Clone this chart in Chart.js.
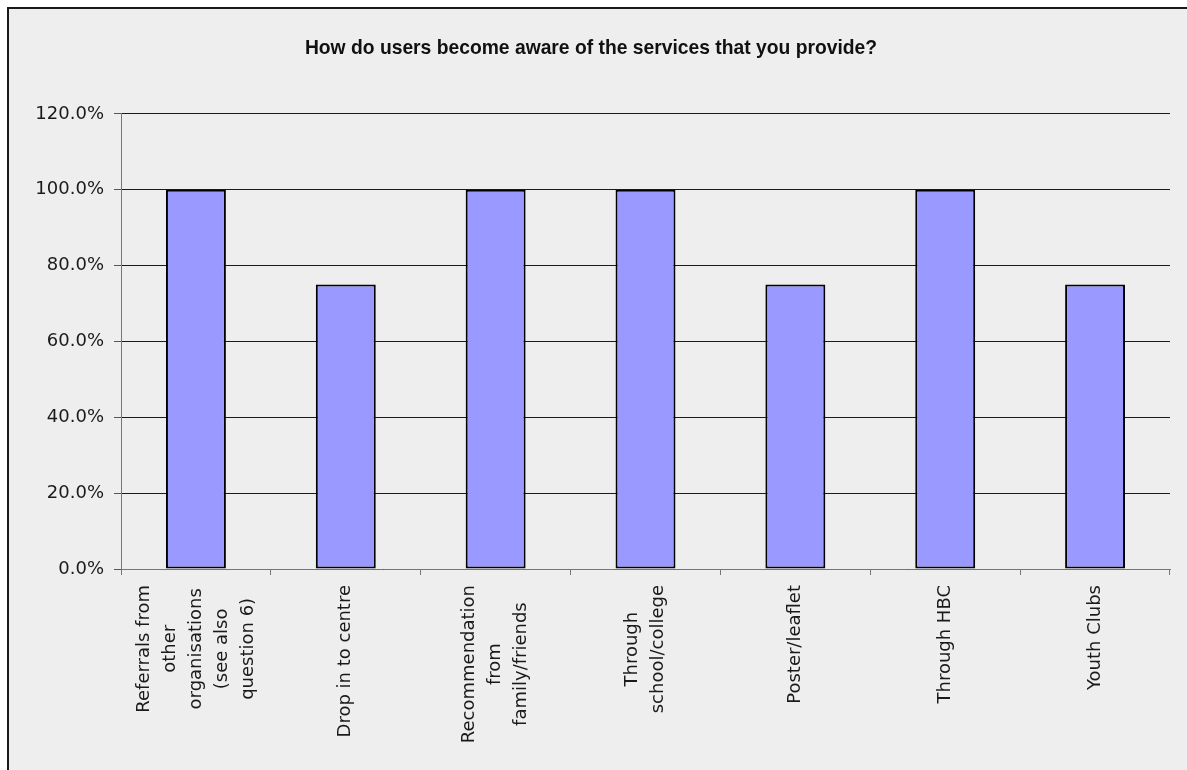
<!DOCTYPE html>
<html>
<head>
<meta charset="utf-8">
<script src="https://cdn.jsdelivr.net/npm/chart.js@4/dist/chart.umd.min.js"></script>
<style>
  html, body { margin: 0; padding: 0; background: #ffffff; overflow: hidden; }
  #wrap { position: relative; width: 1187px; height: 770px; }
</style>
</head>
<body>
<div id="wrap"><canvas id="c" width="1187" height="770"></canvas></div>
<script>
const chartTitle = "How do users become aware of the services that you provide?";
const categories = [
  ["Referrals from", "other", "organisations", "(see also", "question 6)"],
  ["Drop in to centre"],
  ["Recommendation", "from", "family/friends"],
  ["Through", "school/college"],
  ["Poster/leaflet"],
  ["Through HBC"],
  ["Youth Clubs"]
];
const awarenessValues = [1.0, 0.75, 1.0, 1.0, 0.75, 1.0, 0.75];
const yTickMin = 0;
const yTickMax = 1.2;
const yTickStep = 0.2;

const frame = {
  id: 'frame',
  beforeDraw(chart) {
    const ctx = chart.ctx;
    ctx.save();
    ctx.fillStyle = '#ffffff';
    ctx.fillRect(0, 0, chart.width, chart.height);
    ctx.fillStyle = '#eeeeee';
    ctx.fillRect(7, 7, chart.width - 7, chart.height - 7);
    ctx.fillStyle = '#1a1a1a';
    ctx.fillRect(7, 7, 2, chart.height - 7);
    ctx.fillRect(7, 7, chart.width - 7, 2);
    ctx.restore();
  }
};

const xLabels = {
  id: 'xLabels',
  afterDraw(chart) {
    const ctx = chart.ctx;
    const xs = chart.scales.x;
    const top = xs.top + 16;
    const lh = 26;
    ctx.save();
    ctx.font = '18px "DejaVu Sans"';
    ctx.fillStyle = '#1a1a1a';
    ctx.textAlign = 'center';
    ctx.textBaseline = 'middle';
    chart.data.labels.forEach((lines, i) => {
      const x = xs.getPixelForValue(i);
      let maxW = 0;
      lines.forEach(l => { maxW = Math.max(maxW, ctx.measureText(l).width); });
      ctx.save();
      ctx.translate(x, top);
      ctx.rotate(-Math.PI / 2);
      lines.forEach((l, j) => {
        ctx.fillText(l, -maxW / 2, (j - (lines.length - 1) / 2) * lh);
      });
      ctx.restore();
    });
    ctx.restore();
  }
};

new Chart(document.getElementById('c'), {
  type: 'bar',
  data: {
    labels: categories,
    datasets: [{
      data: awarenessValues,
      backgroundColor: '#9999ff',
      borderColor: '#000000',
      borderWidth: 2,
      borderSkipped: false,
      barPercentage: 0.4,
      categoryPercentage: 1.0
    }]
  },
  options: {
    responsive: false,
    animation: false,
    devicePixelRatio: 1,
    layout: { padding: { left: 12, right: 17, top: 0, bottom: 0 } },
    plugins: {
      legend: { display: false },
      tooltip: { enabled: false },
      title: {
        display: true,
        text: chartTitle,
        color: '#111111',
        font: { family: '"Liberation Sans", Arial, sans-serif', size: 19.3, weight: 'bold', lineHeight: 1.2 },
        padding: { top: 37, bottom: 53.8 }
      }
    },
    scales: {
      x: {
        offset: true,
        ticks: { display: false },
        grid: {
          offset: true,
          drawOnChartArea: false,
          drawTicks: true,
          tickLength: 6,
          color: '#777777',
          lineWidth: 1
        },
        border: { color: '#777777', width: 1 },
        afterFit(scale) { scale.height = 201; }
      },
      y: {
        min: yTickMin,
        max: yTickMax,
        ticks: {
          stepSize: yTickStep,
          padding: 10,
          color: '#1a1a1a',
          font: { family: '"DejaVu Sans"', size: 18 },
          callback: v => (v * 100).toFixed(1) + '%'
        },
        grid: {
          color: '#1a1a1a',
          lineWidth: 1,
          tickLength: 7,
          tickColor: '#555555'
        },
        border: { color: '#777777', width: 1 },
        afterFit(scale) { scale.width = 109; }
      }
    }
  },
  plugins: [frame, xLabels]
});
</script>
</body>
</html>
